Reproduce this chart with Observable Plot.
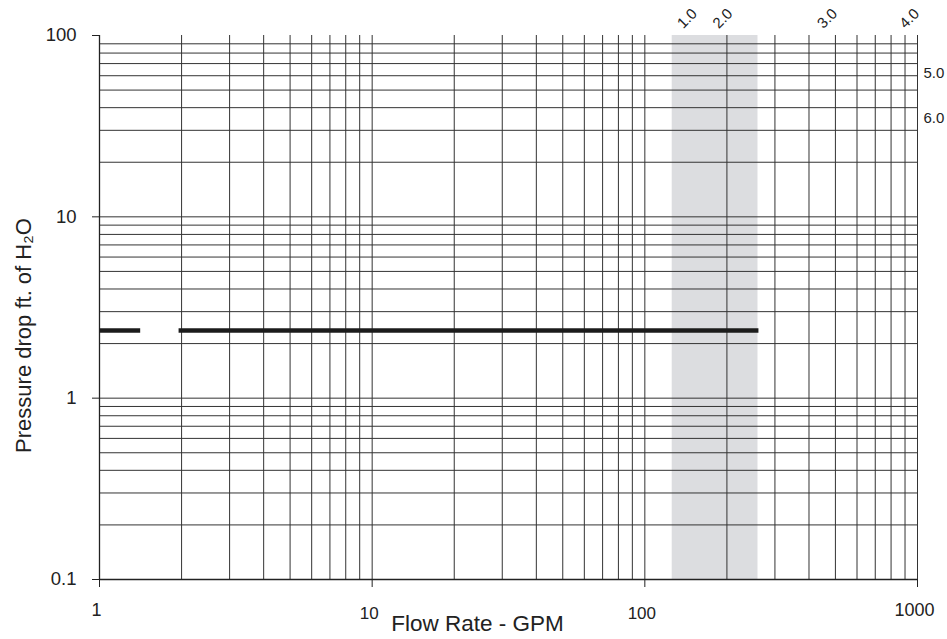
<!DOCTYPE html>
<html><head><meta charset="utf-8">
<script src="https://cdn.jsdelivr.net/npm/d3@7"></script>
<script src="https://cdn.jsdelivr.net/npm/@observablehq/plot@0.6"></script>
<style>body{margin:0;background:#fff;font-family:"Liberation Sans",Arial,sans-serif}</style>
</head><body><div id="chart"></div>
<script>
const xTicksOuter = [1, 1000];
const xTicksInner = [10, 100];
const yTicks = [0.1, 1, 10, 100];
const xGrid = [2,3,4,5,6,7,8,9,10,20,30,40,50,60,70,80,90,100,200,300,400,500,600,700,800,900,1000];
const yGrid = [0.2,0.3,0.4,0.5,0.6,0.7,0.8,0.9,1,2,3,4,5,6,7,8,9,10,20,30,40,50,60,70,80,90];
const shadeBand = [{x1: 126, x2: 260}];
const curveSegments = [
  {seg: "a", x: 1, y: 2.36}, {seg: "a", x: 1.41, y: 2.36},
  {seg: "b", x: 1.95, y: 2.36}, {seg: "b", x: 261, y: 2.36}
];
const topLabels = [{x: 143, t: "1.0"}, {x: 193, t: "2.0"}, {x: 467, t: "3.0"}, {x: 934, t: "4.0"}];
const sideLabels = [{y: 61.7, t: "5.0"}, {y: 34.9, t: "6.0"}];

const font = '"Liberation Sans", Arial, sans-serif';
const ink = "#222";
const chart = Plot.plot({
  width: 947, height: 639,
  marginLeft: 99, marginRight: 30, marginTop: 35, marginBottom: 60,
  style: {fontFamily: font, background: "#fff", overflow: "visible"},
  x: {type: "log", domain: [1, 1000]},
  y: {type: "log", domain: [0.1, 100]},
  marks: [
    Plot.rect(shadeBand, {x1: "x1", x2: "x2", y1: 0.1, y2: 100, fill: "#dcdde0"}),
    Plot.ruleX(xGrid, {y1: 0.1, y2: 100, stroke: "#333", strokeWidth: 1}),
    Plot.ruleY(yGrid, {x1: 1, x2: 1000, stroke: "#333", strokeWidth: 1}),
    Plot.ruleX([1], {y1: 0.1, y2: 100, stroke: ink, strokeWidth: 1.3}),
    Plot.ruleY([0.1], {x1: 1, x2: 1000, stroke: ink, strokeWidth: 1.3}),
    Plot.axisY({ticks: yTicks, tickFormat: d => String(d), tickSize: 7, tickPadding: 16, fontSize: 18.5, label: null, stroke: ink, color: ink}),
    Plot.axisX({ticks: [...xTicksOuter, ...xTicksInner], tickFormat: () => "", tickSize: 8, label: null, stroke: ink}),
    Plot.text(xTicksOuter, {x: d => d, frameAnchor: "bottom", lineAnchor: "middle", dx: -3, dy: 31, text: d => String(d), fontSize: 18, fill: ink}),
    Plot.text(xTicksInner, {x: d => d, frameAnchor: "bottom", lineAnchor: "middle", dx: -3, dy: 34, text: d => String(d), fontSize: 17, fill: ink}),
    Plot.line(curveSegments, {x: "x", y: "y", z: "seg", stroke: "#1c1c1c", strokeWidth: 4.5, strokeLinecap: "butt"}),
    Plot.text(["Flow Rate - GPM"], {frameAnchor: "bottom", lineAnchor: "middle", dx: -31, dy: 44, fontSize: 22.5, fill: ink}),
    Plot.text(["Pressure drop ft. of H₂O"], {frameAnchor: "left", textAnchor: "middle", lineAnchor: "middle", dx: -76, dy: 28, rotate: -90, fontSize: 22, fill: ink}),
    Plot.text(topLabels, {x: "x", frameAnchor: "top", lineAnchor: "middle", dy: -17, text: "t", rotate: -45, fontSize: 15, fill: ink}),
    Plot.text(sideLabels, {x: 1000, y: "y", dx: 6, text: "t", textAnchor: "start", lineAnchor: "middle", fontSize: 15, fill: ink})
  ]
});
document.getElementById("chart").append(chart);
</script></body></html>
